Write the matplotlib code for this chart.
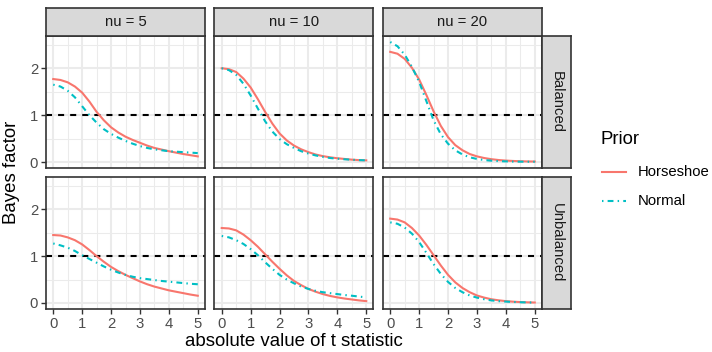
import matplotlib
matplotlib.use("Agg")
import matplotlib.pyplot as plt
from matplotlib.lines import Line2D
from matplotlib.ticker import MultipleLocator

plt.rcParams["font.family"] = ["Liberation Sans", "DejaVu Sans"]

# Data (|t| in steps of 0.25)
t_stat = [0, 0.25, 0.5, 0.75, 1, 1.25, 1.5, 1.75, 2, 2.25, 2.5,
          2.75, 3, 3.25, 3.5, 3.75, 4, 4.25, 4.5, 4.75, 5]
nu_labels = ["nu = 5", "nu = 10", "nu = 20"]
design_labels = ["Balanced", "Unbalanced"]
prior_labels = ["Horseshoe", "Normal"]

hs_bal_5 = [1.77, 1.75, 1.70, 1.61, 1.48, 1.29, 1.07, 0.89, 0.74, 0.63, 0.54,
            0.47, 0.41, 0.35, 0.30, 0.265, 0.23, 0.20, 0.17, 0.145, 0.12]
nm_bal_5 = [1.65, 1.61, 1.52, 1.38, 1.19, 1.00, 0.84, 0.70, 0.60, 0.52, 0.45,
            0.39, 0.34, 0.30, 0.27, 0.25, 0.23, 0.22, 0.21, 0.20, 0.19]
hs_bal_10 = [2.00, 1.98, 1.92, 1.78, 1.59, 1.34, 1.07, 0.82, 0.61, 0.46, 0.35,
             0.27, 0.21, 0.16, 0.125, 0.10, 0.08, 0.065, 0.05, 0.04, 0.035]
nm_bal_10 = [2.00, 1.96, 1.86, 1.67, 1.42, 1.14, 0.87, 0.65, 0.49, 0.38, 0.30,
             0.23, 0.18, 0.14, 0.11, 0.085, 0.07, 0.058, 0.048, 0.04, 0.035]
hs_bal_20 = [2.35, 2.31, 2.20, 2.01, 1.76, 1.43, 1.08, 0.77, 0.53, 0.36, 0.25,
             0.17, 0.12, 0.085, 0.06, 0.042, 0.03, 0.022, 0.016, 0.012, 0.01]
nm_bal_20 = [2.56, 2.47, 2.29, 2.03, 1.71, 1.30, 0.89, 0.59, 0.39, 0.25, 0.16,
             0.10, 0.065, 0.042, 0.028, 0.019, 0.013, 0.009, 0.007, 0.006, 0.005]

hs_unb_5 = [1.45, 1.44, 1.40, 1.34, 1.25, 1.13, 1.00, 0.88, 0.77, 0.68, 0.60,
            0.53, 0.46, 0.40, 0.35, 0.31, 0.27, 0.24, 0.21, 0.18, 0.155]
nm_unb_5 = [1.27, 1.23, 1.18, 1.11, 1.02, 0.94, 0.86, 0.78, 0.71, 0.65, 0.60,
            0.56, 0.53, 0.51, 0.49, 0.47, 0.455, 0.44, 0.425, 0.41, 0.40]
hs_unb_10 = [1.60, 1.59, 1.55, 1.46, 1.34, 1.20, 1.04, 0.88, 0.73, 0.59, 0.47,
             0.38, 0.30, 0.24, 0.19, 0.15, 0.12, 0.095, 0.075, 0.055, 0.04]
nm_unb_10 = [1.43, 1.40, 1.34, 1.26, 1.15, 1.02, 0.87, 0.73, 0.60, 0.50, 0.42,
             0.35, 0.30, 0.26, 0.23, 0.21, 0.19, 0.17, 0.155, 0.137, 0.12]
hs_unb_20 = [1.80, 1.78, 1.72, 1.60, 1.44, 1.24, 1.02, 0.80, 0.60, 0.44, 0.32,
             0.23, 0.16, 0.115, 0.08, 0.057, 0.04, 0.028, 0.02, 0.014, 0.01]
nm_unb_20 = [1.72, 1.69, 1.61, 1.48, 1.30, 1.07, 0.83, 0.62, 0.45, 0.32, 0.23,
             0.16, 0.115, 0.08, 0.055, 0.04, 0.03, 0.022, 0.016, 0.012, 0.01]

series = {
    ("Balanced", 0): (hs_bal_5, nm_bal_5),
    ("Balanced", 1): (hs_bal_10, nm_bal_10),
    ("Balanced", 2): (hs_bal_20, nm_bal_20),
    ("Unbalanced", 0): (hs_unb_5, nm_unb_5),
    ("Unbalanced", 1): (hs_unb_10, nm_unb_10),
    ("Unbalanced", 2): (hs_unb_20, nm_unb_20),
}

HS_COL = "#F8766D"
NM_COL = "#00BFC4"
BORDER = "#333333"
STRIP = "#D9D9D9"
TICKTXT = "#4D4D4D"
GRID = "#EBEBEB"
LW = 1.5
DOTDASH = (0.7, 2.0, 2.8, 2.0)

W, H = 712, 352
fig = plt.figure(figsize=(W / 100, H / 100), dpi=100)


def rect(x0, y0, x1, y1):
    # pixel box (top-left origin) -> figure fraction
    return [x0 / W, 1 - y1 / H, (x1 - x0) / W, (y1 - y0) / H]


def strip_axes(box, label, rot):
    sax = fig.add_axes(rect(*box))
    sax.set_facecolor(STRIP)
    sax.set_xticks([])
    sax.set_yticks([])
    for s in sax.spines.values():
        s.set_color(BORDER)
        s.set_linewidth(1.2)
    sax.text(0.5, 0.5, label, ha="center", va="center", rotation=rot,
             fontsize=10.7, color="#1A1A1A", transform=sax.transAxes)


col_x = [(46, 205), (214.5, 373.5), (383, 542)]
row_y = [(36, 168), (177, 309)]

for r, design in enumerate(design_labels):
    for c in range(3):
        x0, x1 = col_x[c]
        y0, y1 = row_y[r]
        ax = fig.add_axes(rect(x0, y0, x1, y1))
        ax.set_xlim(-0.25, 5.25)
        ax.set_ylim(-0.128, 2.688)
        ax.xaxis.set_major_locator(MultipleLocator(1))
        ax.xaxis.set_minor_locator(MultipleLocator(0.5))
        ax.yaxis.set_major_locator(MultipleLocator(1))
        ax.yaxis.set_minor_locator(MultipleLocator(0.5))
        ax.grid(True, which="major", color=GRID, lw=1.5)
        ax.grid(True, which="minor", color=GRID, lw=0.75)
        ax.set_axisbelow(True)
        for s in ax.spines.values():
            s.set_color(BORDER)
            s.set_linewidth(1.2)
        ax.tick_params(which="minor", length=0)
        ax.tick_params(which="major", length=3.4, width=1.0, color=BORDER,
                       labelsize=10.7, labelcolor=TICKTXT, pad=2.2)
        if c != 0:
            ax.tick_params(axis="y", which="major", length=0, labelleft=False)
        if r != 1:
            ax.tick_params(axis="x", which="major", length=0, labelbottom=False)

        hs, nm = series[(design, c)]
        ax.axhline(1, color="black", lw=LW, dashes=(2.9, 2.9), zorder=2)
        ax.plot(t_stat, hs, color=HS_COL, lw=LW, zorder=3)
        ax.plot(t_stat, nm, color=NM_COL, lw=LW, dashes=DOTDASH, zorder=3)

        if r == 0:
            strip_axes((x0, 8, x1, 36), nu_labels[c], 0)

    y0, y1 = row_y[r]
    strip_axes((542, y0, 571, y1), design, -90)

# axis titles
fig.text(294 / W, 1 - 342 / H, "absolute value of t statistic",
         ha="center", va="center", fontsize=13.4)
fig.text(12 / W, 1 - 172.5 / H, "Bayes factor", ha="center", va="center",
         rotation=90, fontsize=13.4)

# legend
fig.text(600 / W, 1 - 140 / H, "Prior", ha="left", va="center", fontsize=13.4)
legend_y = [172, 201]
for lab, col, yy in zip(prior_labels, [HS_COL, NM_COL], legend_y):
    ln = Line2D([602 / W, 626 / W], [1 - yy / H, 1 - yy / H],
                transform=fig.transFigure, color=col, lw=LW)
    if lab == "Normal":
        ln.set_dashes(DOTDASH)
    fig.add_artist(ln)
    fig.text(638 / W, 1 - yy / H, lab, ha="left", va="center", fontsize=10.7)

fig.savefig("out.png", dpi=100)
